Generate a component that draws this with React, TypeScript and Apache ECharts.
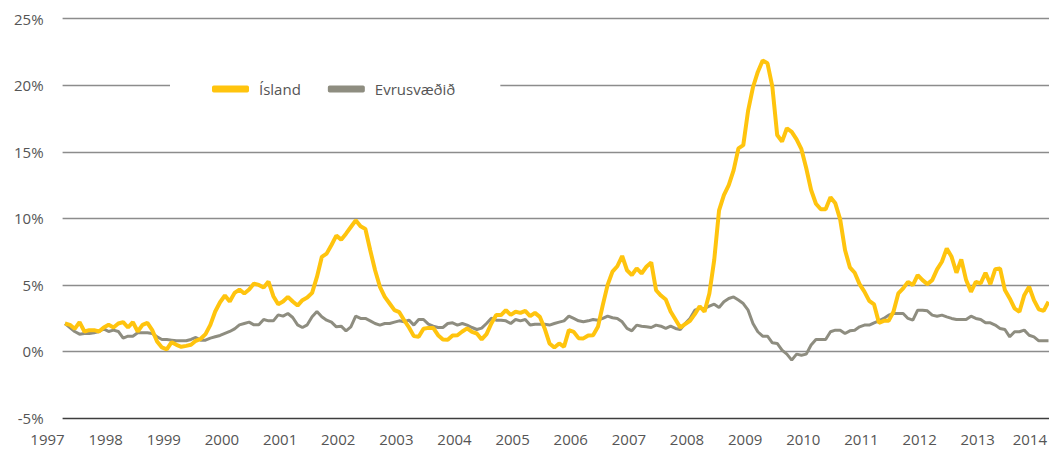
import React, { useEffect, useRef } from "react";
import * as echarts from "echarts";

// Year tick labels (first January of each year)
const years = [1997, 1998, 1999, 2000, 2001, 2002, 2003, 2004, 2005, 2006, 2007, 2008, 2009, 2010, 2011, 2012, 2013, 2014];
const monthsOnAxis = 206; // Jan 1997 .. Feb 2014 (last two months empty)

// Monthly 12-month inflation, %, Jan 1997 .. Dec 2013
const island = [
  2.1, 2.0, 1.7, 2.2, 1.5, 1.6, 1.6, 1.5, 1.8, 2.0, 1.8, 2.1,
  2.2, 1.8, 2.2, 1.5, 2.0, 2.15, 1.6, 0.75, 0.3, 0.15, 0.7, 0.5,
  0.35, 0.42, 0.5, 0.8, 0.95, 1.3, 2.0, 3.0, 3.7, 4.2, 3.75, 4.4,
  4.65, 4.35, 4.65, 5.1, 5.0, 4.8, 5.25, 4.15, 3.55, 3.75, 4.1, 3.75,
  3.45, 3.85, 4.05, 4.4, 5.6, 7.1, 7.35, 8.0, 8.7, 8.4, 8.85, 9.35,
  9.85, 9.4, 9.2, 7.6, 6.1, 4.86, 4.1, 3.6, 3.1, 2.95, 2.35, 1.8,
  1.15, 1.1, 1.7, 1.77, 1.77, 1.22, 0.9, 0.88, 1.2, 1.22, 1.5, 1.73,
  1.47, 1.35, 0.9, 1.3, 2.1, 2.73, 2.73, 3.1, 2.75, 2.98, 2.9, 3.05,
  2.65, 2.9, 2.6, 1.73, 0.6, 0.3, 0.6, 0.35, 1.6, 1.47, 1.0, 0.98,
  1.2, 1.22, 1.85, 3.48, 5.0, 6.0, 6.4, 7.17, 6.1, 5.74, 6.24, 5.86,
  6.36, 6.69, 4.6, 4.2, 3.9, 3.0, 2.4, 1.8, 2.05, 2.3, 2.8, 3.4,
  2.98, 4.36, 6.86, 10.6, 11.75, 12.5, 13.6, 15.26, 15.5, 18.1, 19.85, 21.0,
  21.85, 21.65, 19.9, 16.26, 15.76, 16.77, 16.5, 15.94, 15.2, 13.76, 12.13, 11.1,
  10.68, 10.68, 11.58, 11.13, 9.92, 7.62, 6.32, 5.91, 5.06, 4.5, 3.8, 3.53,
  2.15, 2.3, 2.3, 2.98, 4.36, 4.74, 5.23, 4.98, 5.74, 5.36, 5.06, 5.36,
  6.17, 6.74, 7.74, 7.11, 5.91, 6.92, 5.36, 4.48, 5.23, 5.11, 5.91, 5.06,
  6.17, 6.24, 4.61, 3.98, 3.23, 2.98, 4.23, 4.86, 3.86, 3.16, 3.05, 3.73,
];

const euro = [
  2.1, 1.8, 1.5, 1.3, 1.35, 1.35, 1.4, 1.5, 1.7, 1.5, 1.6, 1.5,
  1.0, 1.15, 1.15, 1.4, 1.4, 1.4, 1.35, 1.1, 0.9, 0.9, 0.85, 0.8,
  0.8, 0.8, 0.9, 1.05, 0.85, 0.85, 1.0, 1.1, 1.2, 1.35, 1.5, 1.7,
  2.0, 2.1, 2.2, 2.0, 2.0, 2.4, 2.3, 2.3, 2.75, 2.65, 2.85, 2.55,
  2.0, 1.8, 2.0, 2.6, 3.0, 2.6, 2.35, 2.2, 1.85, 1.9, 1.55, 1.85,
  2.65, 2.48, 2.48, 2.3, 2.1, 1.98, 2.1, 2.1, 2.2, 2.3, 2.23, 2.35,
  1.98, 2.4, 2.4, 2.05, 1.9, 1.8, 1.8, 2.1, 2.15, 1.98, 2.1, 1.98,
  1.8, 1.65, 1.75, 2.1, 2.5, 2.35, 2.35, 2.3, 2.1, 2.4, 2.3, 2.4,
  1.98, 2.05, 2.05, 2.05, 1.98, 2.1, 2.2, 2.3, 2.65, 2.48, 2.3, 2.23,
  2.3, 2.4, 2.35, 2.48, 2.65, 2.53, 2.48, 2.23, 1.73, 1.55, 1.98, 1.9,
  1.85, 1.8, 1.98, 1.9, 1.73, 1.9, 1.73, 1.65, 2.1, 2.48, 3.1, 3.23,
  3.23, 3.4, 3.55, 3.3, 3.73, 3.98, 4.1, 3.86, 3.6, 3.1, 2.1, 1.48,
  1.15, 1.15, 0.65, 0.6, 0.1, -0.2, -0.65, -0.2, -0.28, -0.2, 0.48, 0.9,
  0.9, 0.9, 1.48, 1.6, 1.6, 1.35, 1.55, 1.6, 1.85, 1.98, 1.98, 2.15,
  2.3, 2.48, 2.73, 2.85, 2.85, 2.85, 2.48, 2.35, 3.1, 3.1, 3.05, 2.73,
  2.65, 2.73, 2.6, 2.48, 2.4, 2.4, 2.4, 2.65, 2.48, 2.4, 2.15, 2.15,
  1.98, 1.73, 1.65, 1.1, 1.48, 1.48, 1.6, 1.22, 1.1, 0.8, 0.8, 0.8,
];

const yMin = -5;
const yMax = 25;
const yStep = 5;

const seriesNames = ["Ísland", "Evrusvæðið"];
const colors = { island: "#FFC40E", euro: "#8E8D80" };

const categories: string[] = [];
for (let i = 0; i < monthsOnAxis; i++) {
  const y = years[0] + Math.floor(i / 12);
  const m = (i % 12) + 1;
  categories.push(`${y}-${m < 10 ? "0" + m : m}`);
}
const lastYear = String(years[years.length - 1]);

export default function App() {
  const ref = useRef<HTMLDivElement>(null);
  useEffect(() => {
    document.body.style.margin = "0";
    if (!ref.current) return;
    const chart = echarts.init(ref.current, undefined, { renderer: "svg" });
    const font = '"Open Sans", sans-serif';
    chart.setOption({
      animation: false,
      textStyle: { fontFamily: font },
      grid: { left: 62.6, top: 18.7, width: 998, height: 399.3, containLabel: false },
      legend: {
        data: seriesNames,
        left: 170,
        top: 77.5,
        backgroundColor: "#ffffff",
        padding: [4, 45, 4, 42],
        itemWidth: 37,
        itemHeight: 7,
        itemGap: 27,
        icon: "roundRect",
        textStyle: { fontSize: 15, color: "#555555", fontFamily: font, padding: [0, 0, 0, 5] },
      },
      xAxis: {
        type: "category",
        data: categories,
        boundaryGap: true,
        axisLine: { show: false },
        axisTick: { show: false },
        splitLine: { show: false },
        axisLabel: {
          interval: (i: number) => i % 12 === 0,
          formatter: (v: string) => {
            const yr = v.slice(0, 4);
            return yr === lastYear ? `{last|${yr}}` : yr;
          },
          fontSize: 15,
          color: "#555555",
          fontFamily: font,
          margin: 13,
          padding: [0, 35, 0, 0],
          rich: {
            last: { fontSize: 15, color: "#555555", fontFamily: font, padding: [0, 12, 0, 0] },
          },
        },
      },
      yAxis: {
        type: "value",
        min: yMin,
        max: yMax,
        interval: yStep,
        axisLine: { show: false },
        axisTick: { show: false },
        axisLabel: { formatter: "{value}%", fontSize: 15, color: "#555555", fontFamily: font, margin: 19 },
        splitLine: {
          lineStyle: {
            color: ["#3d3d3d", "#8c8c8c", "#8c8c8c", "#8c8c8c", "#8c8c8c", "#8c8c8c", "#8c8c8c"],
            width: 1.3,
          },
        },
      },
      series: [
        {
          name: seriesNames[1],
          type: "line",
          data: euro,
          symbol: "none",
          lineStyle: { color: colors.euro, width: 3 },
          itemStyle: { color: colors.euro },
        },
        {
          name: seriesNames[0],
          type: "line",
          data: island,
          symbol: "none",
          lineStyle: { color: colors.island, width: 4 },
          itemStyle: { color: colors.island },
        },
      ],
    });
    return () => chart.dispose();
  }, []);
  return (
    <div style={{ width: 1049, height: 449, overflow: "hidden", position: "relative" }}>
      <div ref={ref} style={{ width: 1072, height: 449 }} />
    </div>
  );
}
